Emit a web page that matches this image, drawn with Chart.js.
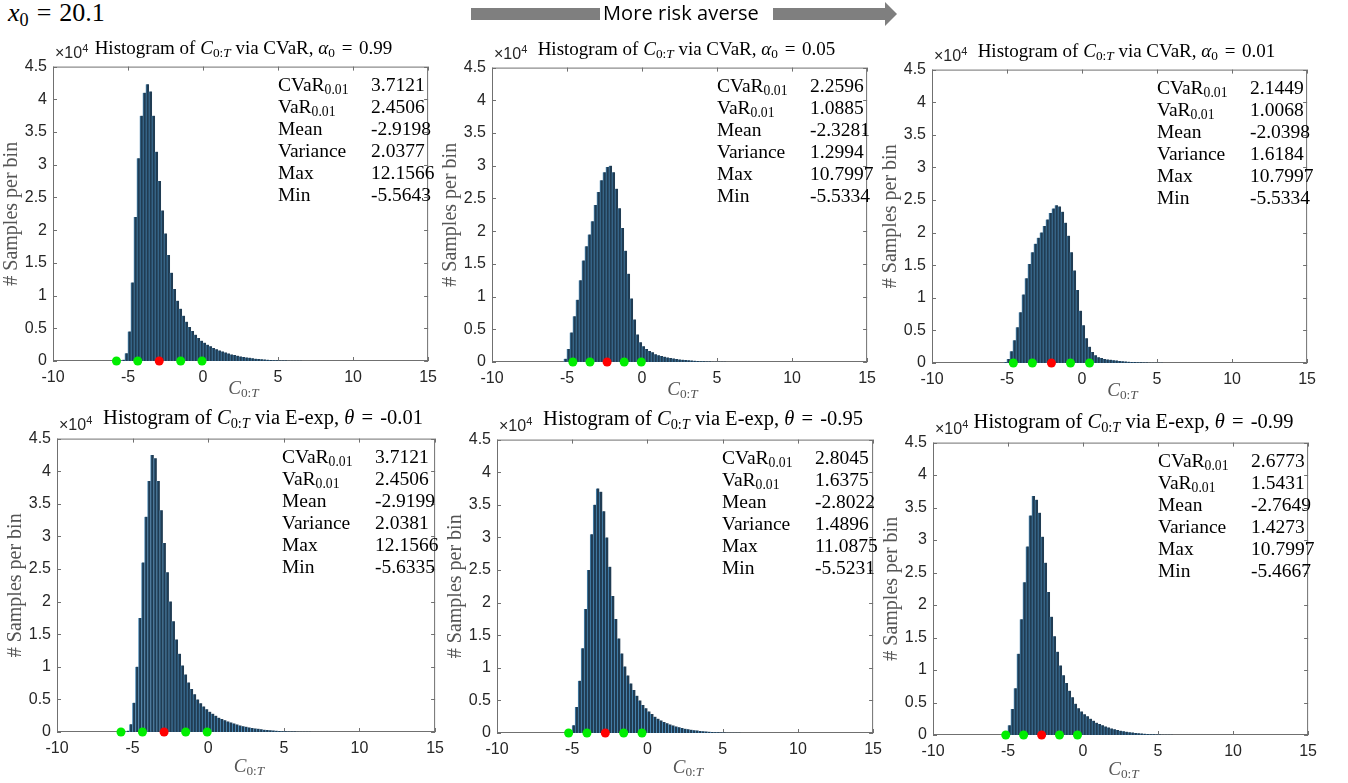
<!DOCTYPE html>
<html>
<head>
<meta charset="utf-8">
<title>Histograms of C0:T</title>
<script src="https://cdn.jsdelivr.net/npm/chart.js@4.4.1/dist/chart.umd.min.js"></script>
<style>
body { margin: 0; background: #fff; width: 1348px; height: 783px; overflow: hidden; position: relative; font-family: 'Liberation Serif', serif; }
canvas { position: absolute; }
.ov { position: absolute; white-space: nowrap; }
.ttl { font-size: 19px; line-height: 20px; color: #000; text-align: center; width: 460px; }
.ttl .eq { margin: 0 2px; }
.exp { font-family: 'Liberation Sans', sans-serif; font-size: 16px; line-height: 16px; color: #262626; }
.exp sup { font-size: 11px; vertical-align: 6px; line-height: 0; }
.stats { font-size: 19.5px; line-height: 22px; color: #000; }
.xlab { font-size: 19px; line-height: 20px; color: #555; text-align: center; width: 100px; }
sub { font-size: 70%; vertical-align: -0.25em; line-height: 0; }
.hdr { font-size: 26px; line-height: 26px; color: #000; }
.risk { font-family: 'Open Sans', sans-serif; font-size: 20px; line-height: 26px; color: #000; letter-spacing: 0.1px; }
.bar { position: absolute; background: #7f7f7f; }
.head { position: absolute; width: 0; height: 0; border-left: 12px solid #7f7f7f; border-top: 12px solid transparent; border-bottom: 12px solid transparent; }
</style>
</head>
<body>
<script>
// bin centres of the histograms (C_{0:T})
const binCenters = [-5.9, -5.7, -5.5, -5.3, -5.1, -4.9, -4.7, -4.5, -4.3, -4.1,
  -3.9, -3.7, -3.5, -3.3, -3.1, -2.9, -2.7, -2.5, -2.3, -2.1,
  -1.9, -1.7, -1.5, -1.3, -1.1, -0.9, -0.7, -0.5, -0.3, -0.1,
  0.1, 0.3, 0.5, 0.7, 0.9, 1.1, 1.3, 1.5, 1.7, 1.9,
  2.1, 2.3, 2.5, 2.7, 2.9, 3.1, 3.3, 3.5, 3.7, 3.9,
  4.1, 4.3, 4.5, 4.7, 4.9, 5.1, 5.3, 5.5, 5.7, 5.9,
  6.1, 6.3, 6.5, 6.7, 6.9, 7.1, 7.3, 7.5, 7.7, 7.9];

// samples per bin (x10^4)
const histCvar99 = [0, 0, 0, 0.02, 0.12, 0.45, 1.2, 2.2, 3.1, 3.75,
  4.1, 4.23, 4.12, 3.75, 3.2, 2.75, 2.3, 1.95, 1.62, 1.35,
  1.1, 0.92, 0.8, 0.69, 0.6, 0.52, 0.46, 0.4, 0.35, 0.31,
  0.28, 0.25, 0.225, 0.2, 0.18, 0.16, 0.145, 0.13, 0.115, 0.1,
  0.09, 0.08, 0.07, 0.062, 0.055, 0.048, 0.042, 0.036, 0.031, 0.027,
  0.023, 0.019, 0.016, 0.013, 0.011, 0.009, 0.007, 0.006, 0.005, 0.004,
  0.003, 0.002, 0.002, 0.001, 0.001, 0, 0, 0, 0, 0];
const histCvar05 = [0, 0, 0, 0, 0.05, 0.2, 0.45, 0.7, 0.95, 1.25,
  1.55, 1.77, 1.95, 2.15, 2.4, 2.6, 2.78, 2.9, 2.98, 3.0,
  2.9, 2.65, 2.35, 2.05, 1.7, 1.35, 0.97, 0.65, 0.42, 0.3,
  0.24, 0.2, 0.17, 0.15, 0.12, 0.105, 0.09, 0.08, 0.07, 0.06,
  0.052, 0.045, 0.04, 0.035, 0.03, 0.026, 0.022, 0.018, 0.015, 0.012,
  0.01, 0.008, 0.006, 0.005, 0.004, 0.003, 0.002, 0.002, 0.001, 0.001,
  0, 0, 0, 0, 0, 0, 0, 0, 0, 0];
const histCvar01 = [0, 0, 0, 0, 0.01, 0.06, 0.18, 0.35, 0.55, 0.78,
  1.05, 1.3, 1.52, 1.7, 1.83, 1.92, 2.0, 2.1, 2.2, 2.3,
  2.37, 2.42, 2.4, 2.32, 2.15, 1.95, 1.7, 1.42, 1.12, 0.8,
  0.58, 0.38, 0.25, 0.17, 0.12, 0.09, 0.075, 0.063, 0.055, 0.048,
  0.042, 0.037, 0.032, 0.028, 0.024, 0.02, 0.017, 0.014, 0.012, 0.01,
  0.008, 0.006, 0.005, 0.004, 0.003, 0.002, 0.002, 0.001, 0, 0,
  0, 0, 0, 0, 0, 0, 0, 0, 0, 0];
const histEexp01 = [0, 0, 0, 0.02, 0.12, 0.45, 1.0, 1.75, 2.6, 3.3,
  3.85, 4.25, 4.2, 3.85, 3.4, 2.9, 2.45, 2.0, 1.7, 1.42,
  1.2, 1.02, 0.88, 0.76, 0.66, 0.58, 0.5, 0.44, 0.39, 0.35,
  0.31, 0.28, 0.25, 0.22, 0.2, 0.18, 0.16, 0.145, 0.13, 0.115,
  0.1, 0.09, 0.08, 0.07, 0.062, 0.055, 0.048, 0.042, 0.036, 0.031,
  0.027, 0.023, 0.019, 0.016, 0.013, 0.011, 0.009, 0.007, 0.006, 0.005,
  0.004, 0.003, 0.002, 0.002, 0.001, 0.001, 0, 0, 0, 0];
const histEexp95 = [0, 0, 0, 0, 0.02, 0.12, 0.4, 0.8, 1.3, 1.9,
  2.5, 3.05, 3.5, 3.75, 3.7, 3.4, 3.0, 2.55, 2.1, 1.75,
  1.45, 1.22, 1.02, 0.88, 0.76, 0.66, 0.57, 0.5, 0.43, 0.38,
  0.33, 0.29, 0.25, 0.22, 0.19, 0.17, 0.15, 0.13, 0.115, 0.1,
  0.088, 0.077, 0.067, 0.058, 0.05, 0.043, 0.037, 0.031, 0.026, 0.022,
  0.018, 0.015, 0.012, 0.01, 0.008, 0.006, 0.005, 0.004, 0.003, 0.002,
  0.002, 0.001, 0.001, 0, 0, 0, 0, 0, 0, 0];
const histEexp99 = [0, 0, 0, 0, 0.02, 0.15, 0.4, 0.72, 1.25, 1.78,
  2.35, 2.9, 3.38, 3.68, 3.62, 3.42, 3.05, 2.65, 2.2, 1.82,
  1.52, 1.28, 1.07, 0.92, 0.8, 0.68, 0.58, 0.48, 0.41, 0.36,
  0.32, 0.29, 0.25, 0.22, 0.19, 0.17, 0.15, 0.13, 0.115, 0.1,
  0.088, 0.076, 0.066, 0.057, 0.05, 0.043, 0.037, 0.031, 0.026, 0.022,
  0.018, 0.015, 0.012, 0.01, 0.008, 0.006, 0.005, 0.004, 0.003, 0.002,
  0.001, 0.001, 0, 0, 0, 0, 0, 0, 0, 0];

// markers on the axis: mean -2s, -s, mean, +s, +2s
const markCvar99 = [-5.77, -4.35, -2.92, -1.49, -0.07];
const markCvar05 = [-4.61, -3.47, -2.33, -1.19, -0.05];
const markCvar01 = [-4.58, -3.31, -2.04, -0.77, 0.50];
const markEexp01 = [-5.77, -4.35, -2.92, -1.49, -0.07];
const markEexp95 = [-5.24, -4.02, -2.80, -1.58, -0.36];
const markEexp99 = [-5.15, -3.96, -2.76, -1.57, -0.37];
const markColors = ['#00ee00', '#00ee00', '#ff0000', '#00ee00', '#00ee00'];

const statLabels = ['CVaR<sub>0.01</sub>', 'VaR<sub>0.01</sub>', 'Mean', 'Variance', 'Max', 'Min'];
const statsCvar99 = ['3.7121', '2.4506', '-2.9198', '2.0377', '12.1566', '-5.5643'];
const statsCvar05 = ['2.2596', '1.0885', '-2.3281', '1.2994', '10.7997', '-5.5334'];
const statsCvar01 = ['2.1449', '1.0068', '-2.0398', '1.6184', '10.7997', '-5.5334'];
const statsEexp01 = ['3.7121', '2.4506', '-2.9199', '2.0381', '12.1566', '-5.6335'];
const statsEexp95 = ['2.8045', '1.6375', '-2.8022', '1.4896', '11.0875', '-5.5231'];
const statsEexp99 = ['2.6773', '1.5431', '-2.7649', '1.4273', '10.7997', '-5.4667'];

const methods = ['CVaR', 'CVaR', 'CVaR', 'E-exp', 'E-exp', 'E-exp'];
const params = ['<i>α</i><sub>0</sub> <span class="eq">=</span> 0.99', '<i>α</i><sub>0</sub> <span class="eq">=</span> 0.05',
  '<i>α</i><sub>0</sub> <span class="eq">=</span> 0.01', '<i>θ</i> <span class="eq">=</span> -0.01',
  '<i>θ</i> <span class="eq">=</span> -0.95', '<i>θ</i> <span class="eq">=</span> -0.99'];

const xTicks = [-10, -5, 0, 5, 10, 15];
const yTicks = [0, 0.5, 1, 1.5, 2, 2.5, 3, 3.5, 4, 4.5];

// axes boxes on the page [left, top, right, bottom] and text gaps
const boxes = [[53, 61, 434, 361], [492, 62, 873, 362], [932, 64, 1313, 363],
  [57, 433, 441, 732], [497, 434, 879, 733], [933, 437, 1314, 735]];
const titleGap = [6, 6, 6, 9, 9, 9];
const titleShift = [0, 4, 4, 14, 15, 10];
const titleSize = [19, 19, 19, 20.5, 20.5, 20.5];
const xlabGap = [27, 27, 27, 34, 34, 34];

const hists = [histCvar99, histCvar05, histCvar01, histEexp01, histEexp95, histEexp99];
const marks = [markCvar99, markCvar05, markCvar01, markEexp01, markEexp95, markEexp99];
const stats = [statsCvar99, statsCvar05, statsCvar01, statsEexp01, statsEexp95, statsEexp99];

const frameColor = '#707070';
const framePlugin = {
    id: 'frame',
    beforeDatasetsDraw(chart) {
        const {ctx, chartArea: a, scales: {x, y}} = chart;
        ctx.save();
        ctx.strokeStyle = frameColor;
        ctx.lineWidth = 1;
        ctx.strokeRect(a.left + 0.5, a.top + 0.5, a.right - a.left - 1, a.bottom - a.top - 1);
        ctx.beginPath();
        xTicks.forEach(v => {
            const px = Math.round(x.getPixelForValue(v)) + 0.5;
            ctx.moveTo(px, a.bottom); ctx.lineTo(px, a.bottom - 4);
            ctx.moveTo(px, a.top); ctx.lineTo(px, a.top + 4);
        });
        yTicks.forEach(v => {
            const py = Math.round(y.getPixelForValue(v)) + 0.5;
            ctx.moveTo(a.left, py); ctx.lineTo(a.left + 4, py);
            ctx.moveTo(a.right, py); ctx.lineTo(a.right - 4, py);
        });
        ctx.stroke();
        ctx.restore();
    }
};

function el(cls, html, left, top) {
    const d = document.createElement('div');
    d.className = 'ov ' + cls;
    d.innerHTML = html;
    d.style.left = left + 'px';
    d.style.top = top + 'px';
    document.body.appendChild(d);
    return d;
}

function criarPainel(i) {
    const [L, T, R, B] = boxes[i];
    const canvas = document.createElement('canvas');
    canvas.width = R - L + 63;
    canvas.height = B - T + 55;
    canvas.style.left = (L - 53) + 'px';
    canvas.style.top = (T - 10) + 'px';
    document.body.appendChild(canvas);

    const tickFont = {family: "'Liberation Sans', Arial, sans-serif", size: 16};
    new Chart(canvas, {
        type: 'bar',
        data: {
            datasets: [{
                type: 'scatter',
                data: marks[i].map(v => ({x: v, y: 0})),
                backgroundColor: markColors,
                borderWidth: 0,
                pointRadius: 4.5,
                clip: false,
                order: 0
            }, {
                type: 'bar',
                data: binCenters.map((c, k) => ({x: c, y: hists[i][k]})),
                backgroundColor: '#203c53',
                borderColor: '#4a89b6',
                borderWidth: {top: 0, left: 1, right: 0, bottom: 0},
                inflateAmount: 0.5,
                barPercentage: 1,
                categoryPercentage: 1,
                order: 1
            }]
        },
        options: {
            responsive: false,
            animation: false,
            events: [],
            layout: {padding: {left: 0, top: 10, right: 10, bottom: 0}},
            plugins: {legend: {display: false}, tooltip: {enabled: false}},
            scales: {
                x: {
                    type: 'linear', min: -10, max: 15, offset: false,
                    afterBuildTicks: s => { s.ticks = xTicks.map(v => ({value: v})); },
                    afterFit: s => { s.height = 45; },
                    grid: {display: false, drawTicks: false},
                    border: {display: false},
                    ticks: {padding: 7, font: tickFont, color: '#262626', maxRotation: 0, autoSkip: false,
                        callback: v => String(v)}
                },
                y: {
                    min: 0, max: 4.5,
                    afterBuildTicks: s => { s.ticks = yTicks.map(v => ({value: v})); },
                    afterFit: s => { s.width = 53; },
                    grid: {display: false, drawTicks: false},
                    border: {display: false},
                    ticks: {padding: 6, font: tickFont, color: '#262626', autoSkip: false,
                        callback: v => String(v)},
                    title: {display: true, text: '# Samples per bin', color: '#555',
                        font: {family: "'Liberation Serif', serif", size: 20}, padding: 0}
                }
            }
        },
        plugins: [framePlugin]
    });

    // title, exponent label, stats box, x label
    const t = el('ttl', 'Histogram of <i>C</i><sub>0:<i>T</i></sub> via ' + methods[i] + ', ' + params[i],
        (L + R) / 2 - 230 + titleShift[i], T - titleGap[i] - 17);
    t.style.fontSize = titleSize[i] + 'px';
    el('exp', '×10<sup>4</sup>', L + 2, T - 3 - 13);
    el('stats', statLabels.map(s => '<div>' + s + '</div>').join(''), L + 225, T + 13);
    el('stats', stats[i].map(s => '<div>' + s + '</div>').join(''), L + 318, T + 13);
    el('xlab', '<i>C</i><sub>0:<i>T</i></sub>', (L + R) / 2 - 50, B + xlabGap[i] - 10);
}

for (let i = 0; i < boxes.length; i++) criarPainel(i);

// header: x0 and the "More risk averse" arrow
el('hdr', '<i>x</i><sub>0</sub><span style="margin:0 8px">=</span>20.1', 8, 0);
const b1 = document.createElement('div'); b1.className = 'bar';
b1.style.cssText = 'left:471px;top:8px;width:129px;height:12px';
document.body.appendChild(b1);
const b2 = document.createElement('div'); b2.className = 'bar';
b2.style.cssText = 'left:773px;top:8px;width:112px;height:12px';
document.body.appendChild(b2);
const hd = document.createElement('div'); hd.className = 'head';
hd.style.cssText = 'left:885px;top:2px';
document.body.appendChild(hd);
el('risk', 'More risk averse', 603, 0);
</script>
</body>
</html>
